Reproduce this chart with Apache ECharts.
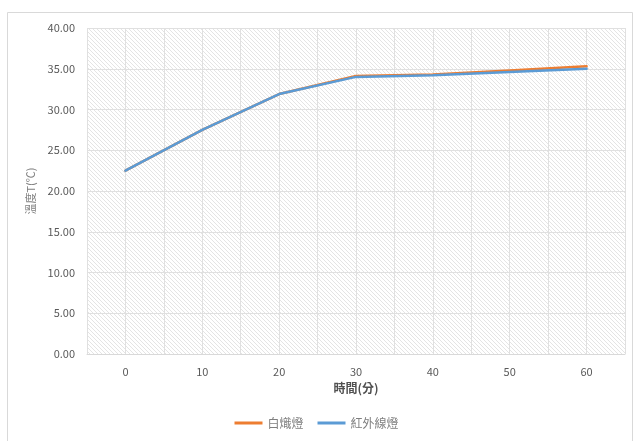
<!DOCTYPE html>
<html>
<head>
<meta charset="utf-8">
<script src="https://cdn.jsdelivr.net/npm/echarts@6/dist/echarts.min.js"></script>
<style>
  html, body { margin: 0; padding: 0; background: #fff; }
  #chart { width: 633px; height: 441px; }
</style>
</head>
<body>
<div id="chart"></div>
<script>
// Heating time (minutes) and temperature readings for each lamp
const minutes = [0, 10, 20, 30, 40, 50, 60];
const incandescent = [22.5, 27.5, 31.9, 34.1, 34.3, 34.8, 35.3];
const infrared = [22.5, 27.5, 31.9, 34.0, 34.2, 34.6, 35.0];
const seriesNames = ['白熾燈', '紅外線燈'];
const xTitle = '時間(分)';
const yTitle = '溫度T(℃)';

// Diagonal hatch fill for the plot area
function hatch() {
  const c = document.createElement('canvas');
  c.width = 4; c.height = 4;
  const g = c.getContext('2d');
  g.fillStyle = '#ffffff';
  g.fillRect(0, 0, 4, 4);
  g.strokeStyle = '#e4e4e4';
  g.lineWidth = 1;
  g.beginPath();
  g.moveTo(0, 0); g.lineTo(4, 4);
  g.moveTo(-1, 3); g.lineTo(1, 5);
  g.moveTo(3, -1); g.lineTo(5, 1);
  g.stroke();
  return c;
}

const font = '"Noto Sans CJK TC", "Noto Sans", sans-serif';
const chart = echarts.init(document.getElementById('chart'), null, { renderer: 'canvas' });

chart.setOption({
  animation: false,
  backgroundColor: '#ffffff',
  textStyle: { fontFamily: font },
  graphic: [{
    type: 'rect',
    shape: { x: 7.5, y: 12.5, width: 625, height: 440 },
    style: { fill: 'none', stroke: '#d9d9d9', lineWidth: 1 },
    silent: true
  }],
  grid: {
    left: 87, right: 8, top: 28, bottom: 87,
    show: true,
    borderWidth: 0,
    backgroundColor: { image: hatch(), repeat: 'repeat' }
  },
  legend: {
    data: seriesNames,
    bottom: 7,
    left: 'center',
    itemWidth: 28,
    itemHeight: 3,
    itemGap: 14,
    icon: 'rect',
    textStyle: { color: '#7f7f7f', fontSize: 12, fontFamily: font }
  },
  xAxis: {
    type: 'value',
    min: -5, max: 65, interval: 5,
    name: xTitle,
    nameLocation: 'middle',
    nameGap: 28,
    nameTextStyle: { color: '#505050', fontSize: 12, fontWeight: 'bold', fontFamily: font },
    axisLine: { show: true, lineStyle: { color: '#d9d9d9' } },
    axisTick: { show: false },
    axisLabel: {
      color: '#595959', fontSize: 11, margin: 12,
      showMinLabel: true, showMaxLabel: true,
      formatter: v => (v >= 0 && v <= 60 && v % 10 === 0) ? String(v) : ''
    },
    splitLine: { show: true, lineStyle: { color: '#e0e0e0', width: 1 } }
  },
  yAxis: {
    type: 'value',
    min: 0, max: 40, interval: 5,
    name: yTitle,
    nameLocation: 'middle',
    nameGap: 48,
    nameRotate: 90,
    nameTextStyle: { color: '#7f7f7f', fontSize: 11, fontFamily: font },
    axisLine: { show: false },
    axisTick: { show: false },
    axisLabel: {
      color: '#595959', fontSize: 11, margin: 12,
      formatter: v => v.toFixed(2)
    },
    splitLine: { show: true, lineStyle: { color: '#e0e0e0', width: 1 } }
  },
  series: [
    {
      name: seriesNames[0],
      type: 'line',
      data: minutes.map((m, i) => [m, incandescent[i]]),
      showSymbol: false,
      symbol: 'none',
      lineStyle: { color: '#ED7D31', width: 2.5, cap: 'round' },
      itemStyle: { color: '#ED7D31' }
    },
    {
      name: seriesNames[1],
      type: 'line',
      data: minutes.map((m, i) => [m, infrared[i]]),
      showSymbol: false,
      symbol: 'none',
      lineStyle: { color: '#5B9BD5', width: 2.5, cap: 'round' },
      itemStyle: { color: '#5B9BD5' }
    }
  ]
});
</script>
</body>
</html>
